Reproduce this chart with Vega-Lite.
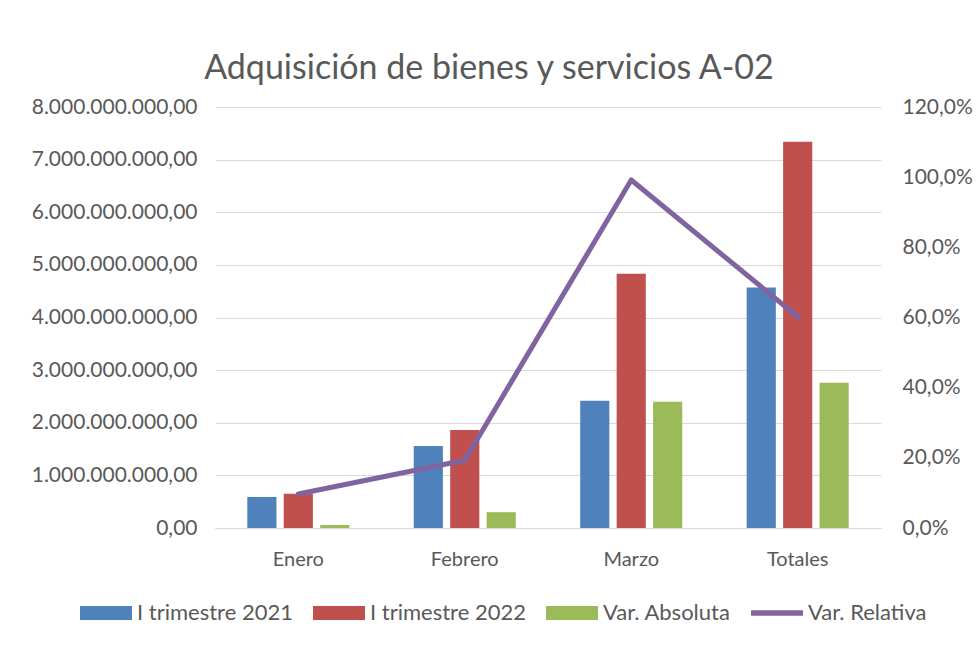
{
  "$schema": "https://vega.github.io/schema/vega-lite/v6.json",
  "autosize": "none",
  "padding": {"left": 215, "top": 107, "right": 96, "bottom": 119},
  "width": 666,
  "height": 421,
  "background": "white",
  "title": {"text": "Adquisición de bienes y servicios A-02", "fontSize": 34, "font": "Lato", "fontWeight": "normal", "color": "#595959", "anchor": "middle", "dx": -59, "offset": 10},
  "datasets": {
    "bars": [
      {"mes": "Enero", "serie": "I trimestre 2021", "valor": 590000000},
      {"mes": "Enero", "serie": "I trimestre 2022", "valor": 650000000},
      {"mes": "Enero", "serie": "Var. Absoluta", "valor": 57000000},
      {"mes": "Febrero", "serie": "I trimestre 2021", "valor": 1560000000},
      {"mes": "Febrero", "serie": "I trimestre 2022", "valor": 1860000000},
      {"mes": "Febrero", "serie": "Var. Absoluta", "valor": 300000000},
      {"mes": "Marzo", "serie": "I trimestre 2021", "valor": 2420000000},
      {"mes": "Marzo", "serie": "I trimestre 2022", "valor": 4830000000},
      {"mes": "Marzo", "serie": "Var. Absoluta", "valor": 2400000000},
      {"mes": "Totales", "serie": "I trimestre 2021", "valor": 4570000000},
      {"mes": "Totales", "serie": "I trimestre 2022", "valor": 7340000000},
      {"mes": "Totales", "serie": "Var. Absoluta", "valor": 2760000000}
    ],
    "line": [
      {"mes": "Enero", "rel": 0.097},
      {"mes": "Febrero", "rel": 0.193},
      {"mes": "Marzo", "rel": 0.992},
      {"mes": "Totales", "rel": 0.602}
    ]
  },
  "layer": [
    {
      "data": {"name": "bars"},
      "mark": {"type": "bar"},
      "encoding": {
        "x": {"field": "mes", "type": "nominal", "sort": ["Enero", "Febrero", "Marzo", "Totales"],
              "scale": {"paddingInner": 0.387, "paddingOuter": 0.194},
              "axis": {"title": null, "labelAngle": 0, "labelFontSize": 20, "labelPadding": 21, "ticks": false, "domainColor": "#D9D9D9", "labelColor": "#595959", "labelFont": "Lato"}},
        "xOffset": {"field": "serie", "type": "nominal", "scale": {"paddingInner": 0.2, "paddingOuter": 0}},
        "y": {"field": "valor", "type": "quantitative", "scale": {"domain": [0, 8000000000]},
              "axis": {"title": null, "format": ",.2f", "values": [0,1000000000,2000000000,3000000000,4000000000,5000000000,6000000000,7000000000,8000000000], "labelOverlap": false, "labelFontSize": 21, "labelPadding": 18, "ticks": false, "domain": false, "gridColor": "#D9D9D9", "labelColor": "#595959", "labelFont": "Lato"}},
        "color": {"field": "serie", "type": "nominal",
                  "scale": {"domain": ["I trimestre 2021", "I trimestre 2022", "Var. Absoluta", "Var. Relativa"], "range": ["#4F81BD", "#C0504D", "#9BBB59", "#8064A2"]},
                  "legend": {"orient": "none", "legendX": -135, "legendY": 480, "padding": 0, "title": null, "direction": "horizontal",
                             "symbolType": "M-1,-0.27H1V0.27H-1Z", "symbolSize": 2704, "symbolStrokeWidth": 0,
                             "labelFontSize": 22, "labelFont": "Lato", "labelColor": "#595959", "columnPadding": 20, "labelOffset": 5,
                             "encode": {"symbols": {"update": {"shape": {"signal": "datum.label === 'Var. Relativa' ? 'M-1,-0.11H1V0.11H-1Z' : 'M-1,-0.27H1V0.27H-1Z'"}}}}}}
      }
    },
    {
      "data": {"name": "line"},
      "mark": {"type": "line", "strokeWidth": 5, "strokeCap": "round", "strokeJoin": "round"},
      "encoding": {
        "x": {"field": "mes", "type": "nominal", "sort": ["Enero", "Febrero", "Marzo", "Totales"]},
        "y": {"field": "rel", "type": "quantitative", "scale": {"domain": [0, 1.2]},
              "axis": {"title": null, "orient": "right", "format": ".1%", "values": [0, 0.2, 0.4, 0.6, 0.8, 1.0, 1.2], "labelOverlap": false, "grid": false, "labelFontSize": 21, "labelPadding": 21, "ticks": false, "domain": false, "labelColor": "#595959", "labelFont": "Lato"}},
        "color": {"datum": "Var. Relativa"}
      }
    }
  ],
  "resolve": {"scale": {"y": "independent"}},
  "config": {
    "locale": {"number": {"decimal": ",", "thousands": ".", "grouping": [3], "currency": ["", " €"], "percent": "%"}},
    "view": {"stroke": null}
  }
}
